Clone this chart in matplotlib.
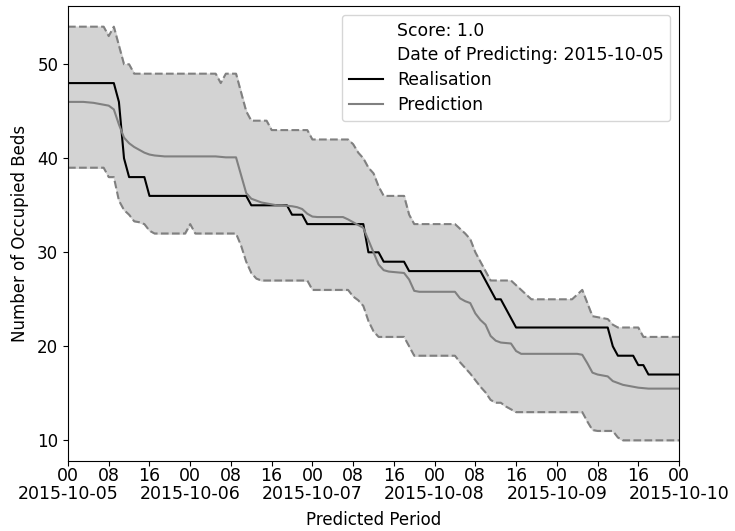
import matplotlib
matplotlib.use("Agg")
import matplotlib.pyplot as plt
import pandas as pd

# hourly values, 2015-10-05 00:00 .. 2015-10-10 00:00
realisation = [
    48, 48, 48, 48, 48, 48, 48, 48, 48, 48,
    46, 40, 38, 38, 38, 38, 36, 36, 36, 36,
    36, 36, 36, 36, 36, 36, 36, 36, 36, 36,
    36, 36, 36, 36, 36, 36, 35, 35, 35, 35,
    35, 35, 35, 35, 34, 34, 34, 33, 33, 33,
    33, 33, 33, 33, 33, 33, 33, 33, 33, 30,
    30, 30, 29, 29, 29, 29, 29, 28, 28, 28,
    28, 28, 28, 28, 28, 28, 28, 28, 28, 28,
    28, 28, 27, 26, 25, 25, 24, 23, 22, 22,
    22, 22, 22, 22, 22, 22, 22, 22, 22, 22,
    22, 22, 22, 22, 22, 22, 22, 20, 19, 19,
    19, 19, 18, 18, 17, 17, 17, 17, 17, 17,
    17,
]
prediction = [
    46.0, 46.0, 46.0, 46.0, 45.95, 45.9, 45.8, 45.7, 45.6, 45.2,
    43.6, 42.2, 41.6, 41.2, 40.9, 40.6, 40.4, 40.3, 40.25, 40.2,
    40.2, 40.2, 40.2, 40.2, 40.2, 40.2, 40.2, 40.2, 40.2, 40.2,
    40.15, 40.1, 40.1, 40.1, 38.2, 36.3, 35.7, 35.5, 35.3, 35.2,
    35.1, 35.0, 35.0, 34.95, 34.9, 34.8, 34.6, 34.1, 33.8, 33.75,
    33.75, 33.75, 33.75, 33.75, 33.75, 33.5, 33.2, 32.9, 32.6, 31.3,
    30.0, 28.7, 28.1, 27.95, 27.9, 27.85, 27.8, 27.1, 25.9, 25.8,
    25.8, 25.8, 25.8, 25.8, 25.8, 25.8, 25.8, 25.1, 24.8, 24.6,
    23.5, 22.8, 22.3, 21.1, 20.6, 20.4, 20.35, 20.3, 19.5, 19.2,
    19.2, 19.2, 19.2, 19.2, 19.2, 19.2, 19.2, 19.2, 19.2, 19.2,
    19.2, 19.1, 18.2, 17.2, 17.0, 16.9, 16.8, 16.3, 16.1, 15.9,
    15.8, 15.7, 15.6, 15.55, 15.5, 15.5, 15.5, 15.5, 15.5, 15.5,
    15.5,
]
upper = [
    54, 54, 54, 54, 54, 54, 54, 54, 53, 54,
    52, 50, 50, 49, 49, 49, 49, 49, 49, 49,
    49, 49, 49, 49, 49, 49, 49, 49, 49, 49,
    48, 49, 49, 49, 47, 45, 44, 44, 44, 44,
    43, 43, 43, 43, 43, 43, 43, 43, 42, 42,
    42, 42, 42, 42, 42, 42, 41.5, 40.6, 40, 39,
    38.4, 37, 36, 36, 36, 36, 36, 34, 33, 33,
    33, 33, 33, 33, 33, 33, 33, 32.5, 32, 31.4,
    30, 29, 28, 27, 27, 27, 27, 27, 26.5, 26,
    25.5, 25, 25, 25, 25, 25, 25, 25, 25, 25,
    25.5, 26, 24.6, 23.2, 23.1, 23.0, 22.9, 22.3, 22, 22,
    22, 22, 22, 21, 21, 21, 21, 21, 21, 21,
    21,
]
lower = [
    39, 39, 39, 39, 39, 39, 39, 39, 38, 38,
    35.5, 34.5, 34, 33.3, 33.2, 33, 32.3, 32, 32, 32,
    32, 32, 32, 32, 33, 32, 32, 32, 32, 32,
    32, 32, 32, 32, 30.7, 29, 27.8, 27.2, 27, 27,
    27, 27, 27, 27, 27, 27, 27, 27, 26, 26,
    26, 26, 26, 26, 26, 26, 25.3, 24.9, 24.3, 22.7,
    21.6, 21, 21, 21, 21, 21, 21, 20, 19, 19,
    19, 19, 19, 19, 19, 19, 19, 18.3, 17.7, 17.1,
    16.4, 15.7, 15.1, 14.3, 14, 14, 13.6, 13.3, 13, 13,
    13, 13, 13, 13, 13, 13, 13, 13, 13, 13,
    13, 13, 12, 11.1, 11, 11, 11, 11, 10.3, 10,
    10, 10, 10, 10, 10, 10, 10, 10, 10, 10,
    10,
]
score = 1.0
predict_date = "2015-10-05"

times = pd.date_range("2015-10-05 00:00", periods=len(realisation), freq="h")

plt.rcParams["font.size"] = 12
fig = plt.figure(figsize=(7.35, 5.31), dpi=100)
ax = fig.add_axes([68 / 735, 1 - 461 / 531, 611 / 735, 455 / 531])

ax.fill_between(times, lower, upper, color="lightgrey")
ax.plot(times, upper, "--", color="grey")
ax.plot(times, lower, "--", color="grey")
ax.plot([], [], " ", label="Score: {}".format(score))
ax.plot([], [], " ", label="Date of Predicting: {}".format(predict_date))
ax.plot(times, realisation, color="black", label="Realisation")
ax.plot(times, prediction, color="grey", label="Prediction")

ticks = pd.date_range(times[0], times[-1], freq="8h")
ax.set_xticks(ticks)
ax.set_xticklabels([t.strftime("%H\n%Y-%m-%d") if t.hour == 0 else t.strftime("%H")
                    for t in ticks], linespacing=0.95, fontsize=12.5)
ax.tick_params(axis="x", pad=1)
ax.set_xlim(times[0], times[-1])
ax.set_ylim(7.8, 56.2)

ax.set_xlabel("Predicted Period", labelpad=6)
ax.set_ylabel("Number of Occupied Beds", labelpad=6)
ax.legend(loc="upper right", fontsize=12.4, labelspacing=0.4, borderaxespad=0.5)

fig.savefig("out.png", dpi=100)
